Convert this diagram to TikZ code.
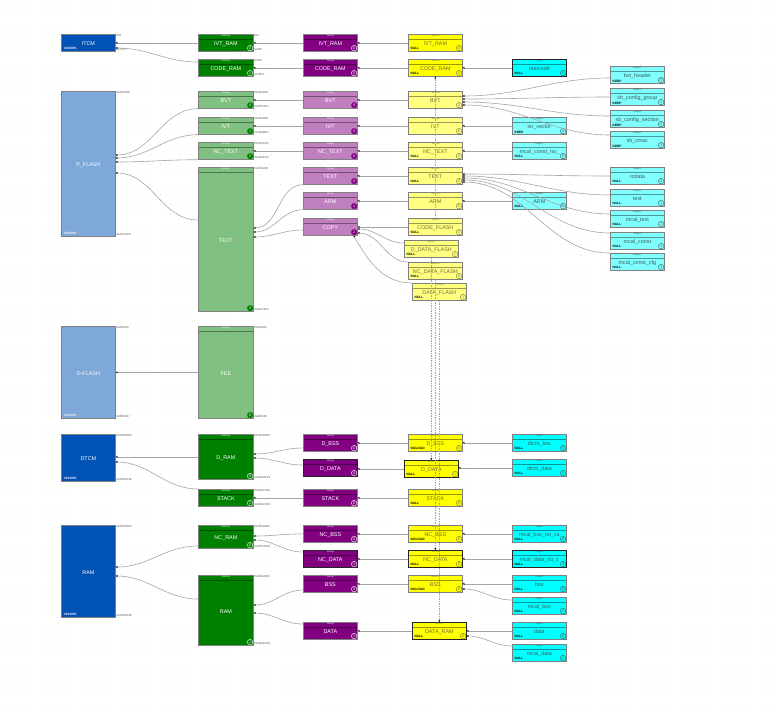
\documentclass[tikz,border=0pt]{standalone}
\usepackage{fontspec}
\setmainfont{Liberation Sans}
\usetikzlibrary{arrows.meta}

\definecolor{devDark}{RGB}{0,82,180}
\definecolor{devLight}{RGB}{125,168,216}
\definecolor{memDark}{RGB}{0,128,0}
\definecolor{memLight}{RGB}{128,192,128}
\definecolor{grpDark}{RGB}{128,0,128}
\definecolor{grpLight}{RGB}{192,128,192}
\definecolor{secDark}{RGB}{255,255,0}
\definecolor{secLight}{RGB}{255,255,128}
\definecolor{regDark}{RGB}{0,255,255}
\definecolor{regLight}{RGB}{128,255,255}
\definecolor{secText}{RGB}{120,110,60}
\definecolor{regText}{RGB}{60,90,90}
\definecolor{linkGray}{RGB}{165,165,165}

\newcommand{\namefont}{\fontsize{5.4}{6}\selectfont}
\newcommand{\hdrfont}{\fontsize{2.4}{3}\selectfont}
\newcommand{\numfont}{\fontsize{3.6}{4}\selectfont}
\newcommand{\attrfont}{\bfseries\fontsize{3.2}{4}\selectfont}
\newcommand{\adrfont}{\fontsize{2.8}{3}\selectfont}

\begin{document}
\begin{tikzpicture}[
    x=1pt, y=-1pt,
    box/.style={draw=gray, line width=0.7pt, anchor=north west, minimum width=54pt, minimum height=17pt,
      inner sep=0pt, text height=6pt, text depth=0pt, font=\namefont},
    hl/.style={draw=black!85},
    hdrline/.style={path picture={\draw[#1!60!black, line width=0.4pt]
      ([yshift=-4.5pt]path picture bounding box.north west) -- ([yshift=-4.5pt]path picture bounding box.north east);}},
    hdrtxt/.style={font=\hdrfont, inner sep=0pt, anchor=north, yshift=-0.6pt},
    head/.style 2 args={label={[hdrtxt, text=#1]north:#2}},
    idx/.style={circle, inner sep=0pt, minimum size=5.5pt, line width=0.4pt, font=\numfont,
      anchor=south east, xshift=-1.5pt, yshift=1.5pt},
    num/.style 2 args={label={[idx, #1]south east:#2}},
    attr/.style={font=\attrfont, text=black, inner sep=0pt, anchor=south west, xshift=2.5pt, yshift=1.5pt},
    att/.style={label={[attr]south west:#1}},
    pct/.style={font=\attrfont, text=white, inner sep=0pt, anchor=south west, xshift=3pt, yshift=1.5pt},
    adr/.style={font=\adrfont, text=black!70, inner sep=0.5pt},
    addr/.style 2 args={label={[adr, anchor=north west]north east:#1}, label={[adr, anchor=south west]south east:#2}},
    dev/.style={box, fill=devDark, text=white, label={[pct]south west:100.00\%}},
    ldev/.style={dev, fill=devLight},
    mem/.style={box, minimum width=55pt, fill=memDark, text=white, hdrline=memDark, head={white}{memory},
      num={draw=white, text=white}{#1}},
    lmem/.style={box, minimum width=55pt, fill=memLight, text=white, hdrline=memLight, head={white}{memory},
      num={draw=memDark, fill=memDark, text=white}{#1}},
    grp/.style={box, fill=grpDark, text=white, hdrline=grpDark, head={white}{Group},
      num={draw=white, text=white}{#1}},
    lgrp/.style={box, fill=grpLight, text=white, hdrline=grpLight, head={white}{Group},
      num={draw=grpDark, fill=grpDark, text=white}{#1}},
    sec/.style={box, fill=secDark, text=secText, hdrline=secDark, head={secText}{Section},
      num={draw=secText, text=secText}{#1}},
    lsec/.style={box, fill=secLight, text=secText, hdrline=secLight, head={secText}{Section},
      num={draw=secText, text=secText}{#1}},
    reg/.style={box, fill=regDark, text=regText, hdrline=regDark, head={regText}{Region},
      num={draw=regText, text=regText}{#1}},
    lreg/.style={box, fill=regLight, text=regText, hdrline=regLight, head={regText}{Region},
      num={draw=regText, text=regText}{#1}},
    link/.style={draw=linkGray, line width=0.6pt, -{Stealth[length=2pt, width=2pt, color=black]}},
    loadlink/.style={draw=gray!70, line width=0.4pt, dash pattern=on 1.5pt off 1pt,
      -{Stealth[length=2pt, width=2pt, color=black]}}
  ]
  \useasboundingbox (0,0) rectangle (775,705);
  \fill[white] (0,0) rectangle (775,705);
  % dotted canvas
  \foreach \y in {4,14,...,704}
    \draw[gray!20, line width=0.6pt, dash pattern=on 0.6pt off 9.4pt] (0,\y) -- (775,\y);

  % devices
  \node[dev, addr={0x0}{0x7FFF}] (itcm) at (61,34) {ITCM};
  \node[ldev, minimum height=145pt, addr={0x2000000}{0x21FFFFF}] (pflash) at (61,91) {P\_FLASH};
  \node[ldev, minimum height=92pt, addr={0x800000}{0x80FFFF}] (dflash) at (61,326) {D-FLASH};
  \node[dev, minimum height=47pt, addr={0x20000000}{0x2001FFFF}] (dtcm) at (61,434) {DTCM};
  \node[dev, minimum height=92pt, addr={0x20020000}{0x2003FFFF}] (ram) at (61,525) {RAM};

  % memory blocks
  \node[mem=0, addr={0x0}{0x3FF}] (mIvtRam) at (198,34) {IVT\_RAM};
  \node[mem=1, addr={0x400}{0x7FFF}] (mCodeRam) at (198,59) {CODE\_RAM};
  \node[lmem=0, addr={0x2000000}{0x20007FF}] (mBvt) at (198,91) {BVT};
  \node[lmem=1, addr={0x2000800}{0x2000BFF}] (mIvt) at (198,117) {IVT};
  \node[lmem=2, addr={0x2000C00}{0x2000FFF}] (mNcText) at (198,142) {NC\_TEXT};
  \node[lmem=3, minimum height=144pt, addr={0x2001000}{0x21FFFFF}] (mText) at (198,167) {TEXT};
  \node[lmem=0, minimum height=92pt, addr={0x800000}{0x80FFFF}] (mFee) at (198,326) {FEE};
  \node[mem=0, minimum height=45pt, addr={0x20000000}{0x2001EFFF}] (mDRam) at (198,434) {D\_RAM};
  \node[mem=1, addr={0x2001F000}{0x2001FFFF}] (mStack) at (198,489) {STACK};
  \node[mem=0, minimum height=23pt, addr={0x20020000}{0x20021FFF}] (mNcRam) at (198,525) {NC\_RAM};
  \node[mem=1, minimum height=70pt, addr={0x20022000}{0x2003FFFF}] (mRam) at (198,575) {RAM};

  % groups
  \node[grp=0] (gIvtRam) at (303,34) {IVT\_RAM};
  \node[grp=0] (gCodeRam) at (303,59) {CODE\_RAM};
  \node[lgrp=0] (gBvt) at (303,91) {BVT};
  \node[lgrp=0] (gIvt) at (303,117) {IVT};
  \node[lgrp=0] (gNcText) at (303,142) {NC\_TEXT};
  \node[lgrp=0] (gText) at (303,167) {TEXT};
  \node[lgrp=1] (gArm) at (303,192) {ARM};
  \node[lgrp=2] (gCopy) at (303,218) {COPY};
  \node[grp=0] (gDBss) at (303,434) {D\_BSS};
  \node[grp=0, hl] (gDData) at (303,459) {D\_DATA};
  \node[grp=0] (gStack) at (303,489) {STACK};
  \node[grp=0] (gNcBss) at (303,525) {NC\_BSS};
  \node[grp=1, hl] (gNcData) at (303,550) {NC\_DATA};
  \node[grp=0] (gBss) at (303,575) {BSS};
  \node[grp=1] (gData) at (303,622) {DATA};

  % sections
  \node[sec=0, att=NULL] (sIvtRam) at (408,34) {IVT\_RAM};
  \node[sec=0, att=NULL] (sCodeRam) at (408,59) {CODE\_RAM};
  \node[lsec=0] (sBvt) at (408,91) {BVT};
  \node[lsec=0] (sIvt) at (408,117) {IVT};
  \node[lsec=0, att=NULL] (sNcText) at (408,142) {NC\_TEXT};
  \node[lsec=0, att=NULL] (sText) at (408,167) {TEXT};
  \node[lsec=0] (sArm) at (408,192) {ARM};
  \node[lsec=0, att=NULL] (sCodeFlash) at (408,218) {CODE\_FLASH};
  \node[lsec=1, att=NULL] (sDDataFlash) at (404,240) {D\_DATA\_FLASH};
  \node[lsec=0, att=NULL] (sNcDataFlash) at (408,262) {NC\_DATA\_FLASH};
  \node[lsec=1, att=NULL] (sDataFlash) at (412,283) {DATA\_FLASH};
  \node[sec=0, att=NOLOAD] (sDBss) at (408,434) {D\_BSS};
  \node[sec=1, att=NULL, hl] (sDData) at (404,460) {D\_DATA};
  \node[sec=0, att=NULL] (sStack) at (408,489) {STACK};
  \node[sec=0, att=NOLOAD] (sNcBss) at (408,525) {NC\_BSS};
  \node[sec=0, att=NULL, hl] (sNcData) at (408,550) {NC\_DATA};
  \node[sec=0, att=NOLOAD] (sBss) at (408,575) {BSS};
  \node[sec=0, att=NULL, hl] (sDataRam) at (412,622) {DATA\_RAM};

  % regions
  \node[reg=0, att=NULL, hl] (rRamcode) at (512,59) {ramcode};
  \node[lreg=0, att=KEEP] (rIsrVector) at (512,117) {isr\_vector};
  \node[lreg=0, att=NULL] (rMcalConstNo) at (512,142) {mcal\_const\_no\_};
  \node[lreg=0, att=NULL] (rArm) at (512,192) {ARM};
  \node[lreg=0, att=KEEP] (rBvtHeader) at (610,66) {bvt\_header};
  \node[lreg=1, att=KEEP] (rSbCfgGroup) at (610,88) {sb\_config\_group};
  \node[lreg=2, att=KEEP] (rSbCfgSection) at (610,110) {sb\_config\_section};
  \node[lreg=3, att=KEEP] (rSbCmac) at (610,131) {sb\_cmac};
  \node[lreg=0, att=NULL] (rRodata) at (610,167) {rodata};
  \node[lreg=1, att=NULL] (rText) at (610,189) {text};
  \node[lreg=2, att=NULL] (rMcalText) at (610,210) {mcal\_text};
  \node[lreg=3, att=NULL] (rMcalConst) at (610,232) {mcal\_const};
  \node[lreg=4, att=NULL] (rMcalConstCfg) at (610,253) {mcal\_const\_cfg};
  \node[reg=0, att=NULL] (rDtcmBss) at (512,434) {dtcm\_bss};
  \node[reg=0, att=NULL] (rDtcmData) at (512,459) {dtcm\_data};
  \node[reg=0, att=NULL] (rMcalBssNo) at (512,525) {mcal\_bss\_no\_ca};
  \node[reg=0, att=NULL, hl] (rMcalDataNo) at (512,550) {mcal\_data\_no\_c};
  \node[reg=0, att=NULL] (rBss) at (512,575) {bss};
  \node[reg=1, att=NULL] (rMcalBss) at (512,597) {mcal\_bss};
  \node[reg=0, att=NULL] (rData) at (512,622) {data};
  \node[reg=1, att=NULL] (rMcalData) at (512,644) {mcal\_data};

  % memory blocks -> devices
  \draw[link] (mIvtRam.west) -- (mIvtRam.west -| itcm.east);
  \draw[link] ([yshift=-3pt]mCodeRam.north west) to[out=180, in=0] ([yshift=-14pt]itcm.north east);
  \draw[link] (mBvt.south west) to[out=180, in=0] ([yshift=-64pt]pflash.north east);
  \draw[link] (mIvt.south west) to[out=180, in=0] ([yshift=-67pt]pflash.north east);
  \draw[link] (mNcText.south west) to[out=180, in=0] ([yshift=-71pt]pflash.north east);
  \draw[link] ([yshift=-53pt]mText.north west) to[out=180, in=0] ([yshift=-82pt]pflash.north east);
  \draw[link] (mFee.west) -- (mFee.west -| dflash.east);
  \draw[link] (mDRam.west) -- (mDRam.west -| dtcm.east);
  \draw[link] (mStack.north west) to[out=180, in=0] ([yshift=-28pt]dtcm.north east);
  \draw[link] ([yshift=-21pt]mNcRam.north west) to[out=180, in=0] ([yshift=-42pt]ram.north east);
  \draw[link] ([yshift=-24pt]mRam.north west) to[out=180, in=0] ([yshift=-51pt]ram.north east);

  % groups -> memory blocks
  \draw[link] (gIvtRam.west) -- (mIvtRam.east);
  \draw[link] (gCodeRam.west) -- (mCodeRam.east);
  \draw[link] (gBvt.west) -- (mBvt.east);
  \draw[link] (gIvt.west) -- (mIvt.east);
  \draw[link] (gNcText.west) -- (mNcText.east);
  \draw[link] (gText.south west) to[out=180, in=0] ([yshift=-61pt]mText.north east);
  \draw[link] (gArm.south west) to[out=180, in=0] ([yshift=-65pt]mText.north east);
  \draw[link] ([yshift=-12pt]gCopy.north west) to[out=180, in=0] ([yshift=-70pt]mText.north east);
  \draw[link] ([yshift=-14pt]gDBss.north west) to[out=180, in=0] ([yshift=-20pt]mDRam.north east);
  \draw[link] ([yshift=-6pt]gDData.north west) to[out=180, in=0] ([yshift=-24pt]mDRam.north east);
  \draw[link] (gStack.west) -- (mStack.east);
  \draw[link] (gNcBss.west) to[out=180, in=0] ([yshift=-11pt]mNcRam.north east);
  \draw[link] ([yshift=-2pt]gNcData.north west) to[out=180, in=0] ([yshift=-15pt]mNcRam.north east);
  \draw[link] ([yshift=-15pt]gBss.north west) to[out=180, in=0] ([yshift=-30pt]mRam.north east);
  \draw[link] ([yshift=-2pt]gData.north west) to[out=180, in=0] ([yshift=-38pt]mRam.north east);

  % sections -> groups
  \draw[link] (sIvtRam.west) -- (gIvtRam.east);
  \draw[link] (sCodeRam.west) -- (gCodeRam.east);
  \draw[link] (sBvt.west) -- (gBvt.east);
  \draw[link] (sIvt.west) -- (gIvt.east);
  \draw[link] (sNcText.west) -- (gNcText.east);
  \draw[link] (sText.west) -- (gText.east);
  \draw[link] (sArm.west) -- (gArm.east);
  \draw[link] (sCodeFlash.west) -- (gCopy.east);
  \draw[link] ([yshift=-3pt]sDDataFlash.north west) to[out=180, in=0] ([yshift=-11pt]gCopy.north east);
  \draw[link] (sNcDataFlash.north west) to[out=180, in=0] ([yshift=-15pt]gCopy.north east);
  \draw[link] (sDataFlash.north west) to[out=180, in=-60] ([xshift=-4pt]gCopy.south east);
  \draw[link] (sDBss.west) -- (sDBss.west -| gDBss.east);
  \draw[link] (sDData.west) -- (sDData.west -| gDData.east);
  \draw[link] (sStack.west) -- (gStack.east);
  \draw[link] (sNcBss.west) -- (gNcBss.east);
  \draw[link] (sNcData.west) -- (gNcData.east);
  \draw[link] (sBss.west) -- (gBss.east);
  \draw[link] (sDataRam.west) -- (sDataRam.west -| gData.east);

  % regions -> sections
  \draw[link] (rRamcode.west) -- (sCodeRam.east);
  \draw[link] ([yshift=-12pt]rBvtHeader.north west) to[out=180, in=0] ([yshift=-5pt]sBvt.north east);
  \draw[link] ([yshift=-9pt]rSbCfgGroup.north west) to[out=180, in=0] ([yshift=-8pt]sBvt.north east);
  \draw[link] ([yshift=-6pt]rSbCfgSection.north west) to[out=180, in=0] ([yshift=-11pt]sBvt.north east);
  \draw[link] ([yshift=-4pt]rSbCmac.north west) to[out=180, in=0] ([yshift=-14pt]sBvt.north east);
  \draw[link] (rIsrVector.west) -- (sIvt.east);
  \draw[link] (rMcalConstNo.west) -- (sNcText.east);
  \draw[link] ([yshift=-9pt]rRodata.north west) to[out=180, in=0] ([yshift=-7pt]sText.north east);
  \draw[link] ([yshift=-6pt]rText.north west) to[out=180, in=0] ([yshift=-9pt]sText.north east);
  \draw[link] ([yshift=-4pt]rMcalText.north west) to[out=180, in=0] ([yshift=-11pt]sText.north east);
  \draw[link] ([yshift=-1pt]rMcalConst.north west) to[out=180, in=0] ([yshift=-13pt]sText.north east);
  \draw[link] (rMcalConstCfg.north west) to[out=180, in=0] ([yshift=-15pt]sText.north east);
  \draw[link] (rArm.west) -- (sArm.east);
  \draw[link] (rDtcmBss.west) -- (rDtcmBss.west -| sDBss.east);
  \draw[link] (rDtcmData.west) -- (rDtcmData.west -| sDData.east);
  \draw[link] (rMcalBssNo.west) -- (sNcBss.east);
  \draw[link] (rMcalDataNo.west) -- (sNcData.east);
  \draw[link] (rBss.west) -- (sBss.east);
  \draw[link] ([yshift=-3pt]rMcalBss.north west) to[out=180, in=0] ([yshift=-14pt]sBss.north east);
  \draw[link] (rData.west) -- (rData.west -| sDataRam.east);
  \draw[link] ([yshift=-2pt]rMcalData.north west) to[out=180, in=0] ([yshift=-14pt]sDataRam.north east);

  % load -> run copies
  \draw[loadlink] (sCodeFlash.north) -- (sCodeRam.south);
  \draw[loadlink] (sDDataFlash.south) -- (sDData.north);
  \draw[loadlink] (sNcDataFlash.south) -- (sNcData.north);
  \draw[loadlink] (sDataFlash.south) -- (sDataRam.north);
\end{tikzpicture}
\end{document}
